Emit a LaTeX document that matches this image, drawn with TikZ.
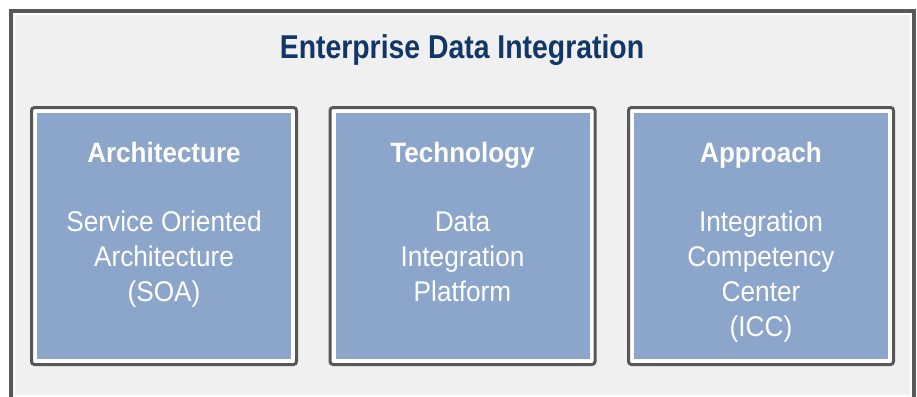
\documentclass[tikz,border=0pt]{standalone}
\usepackage{fontspec}
\setmainfont{Liberation Sans}
\newfontfamily\titlefont[FakeStretch=0.86]{Liberation Sans}
\newfontfamily\headfont[FakeStretch=0.93]{Liberation Sans}
\newfontfamily\bodyfont[FakeStretch=0.92]{Liberation Sans}
\definecolor{framegray}{RGB}{87,87,87}
\definecolor{pagegray}{RGB}{240,240,240}
\definecolor{panelblue}{RGB}{139,165,203}
\definecolor{titlenavy}{RGB}{17,54,104}
\tikzset{
  panel/.style={draw=framegray, line width=3pt, fill=white, rounded corners=3pt,
    minimum width=265pt, minimum height=257pt, outer sep=0pt, inner sep=0pt},
  headtext/.style={text=white, inner sep=0pt, font=\headfont\bfseries\fontsize{28}{34}\selectfont},
  bodytext/.style={text=white, inner sep=0pt, align=center, font=\bodyfont\fontsize{28.5}{35}\selectfont},
  titletext/.style={text=titlenavy, inner sep=0pt, font=\titlefont\bfseries\fontsize{33}{40}\selectfont}
}
\begin{document}
\begin{tikzpicture}[x=1pt,y=-1pt]
\useasboundingbox (0,0) rectangle (917,396);
\fill[white] (0,0) rectangle (917,396);
\draw[framegray, fill=pagegray, line width=3.5pt] (11,11) rectangle (914,399);
\draw[white, line width=1.5pt] (14.25,14.25) rectangle (910.75,395.75);
\node[titletext, anchor=base] (title) at (462,59) {Enterprise Data Integration};
\foreach \nm/\cx in {arch/164, tech/462.5, appr/761}{
  \node[panel] (\nm) at (\cx,236) {};
  \fill[panelblue] ([xshift=5.5pt,yshift=-5.5pt]\nm.north west) rectangle ([xshift=-5.5pt,yshift=5.5pt]\nm.south east);
}
\node[headtext, anchor=base] (archhead) at (164,162) {Architecture};
\node[headtext, anchor=base] (techhead) at (462.5,162) {Technology};
\node[headtext, anchor=base] (apprhead) at (761,162) {Approach};
% base anchor of a multi-line node lies on its last line
\node[bodytext, anchor=base] (archbody) at (164,301) {Service Oriented\\Architecture\\(SOA)};
\node[bodytext, anchor=base] (techbody) at (462.5,301) {Data\\Integration\\Platform};
\node[bodytext, anchor=base] (apprbody) at (761,336) {Integration\\Competency\\Center\\(ICC)};
\end{tikzpicture}
\end{document}
